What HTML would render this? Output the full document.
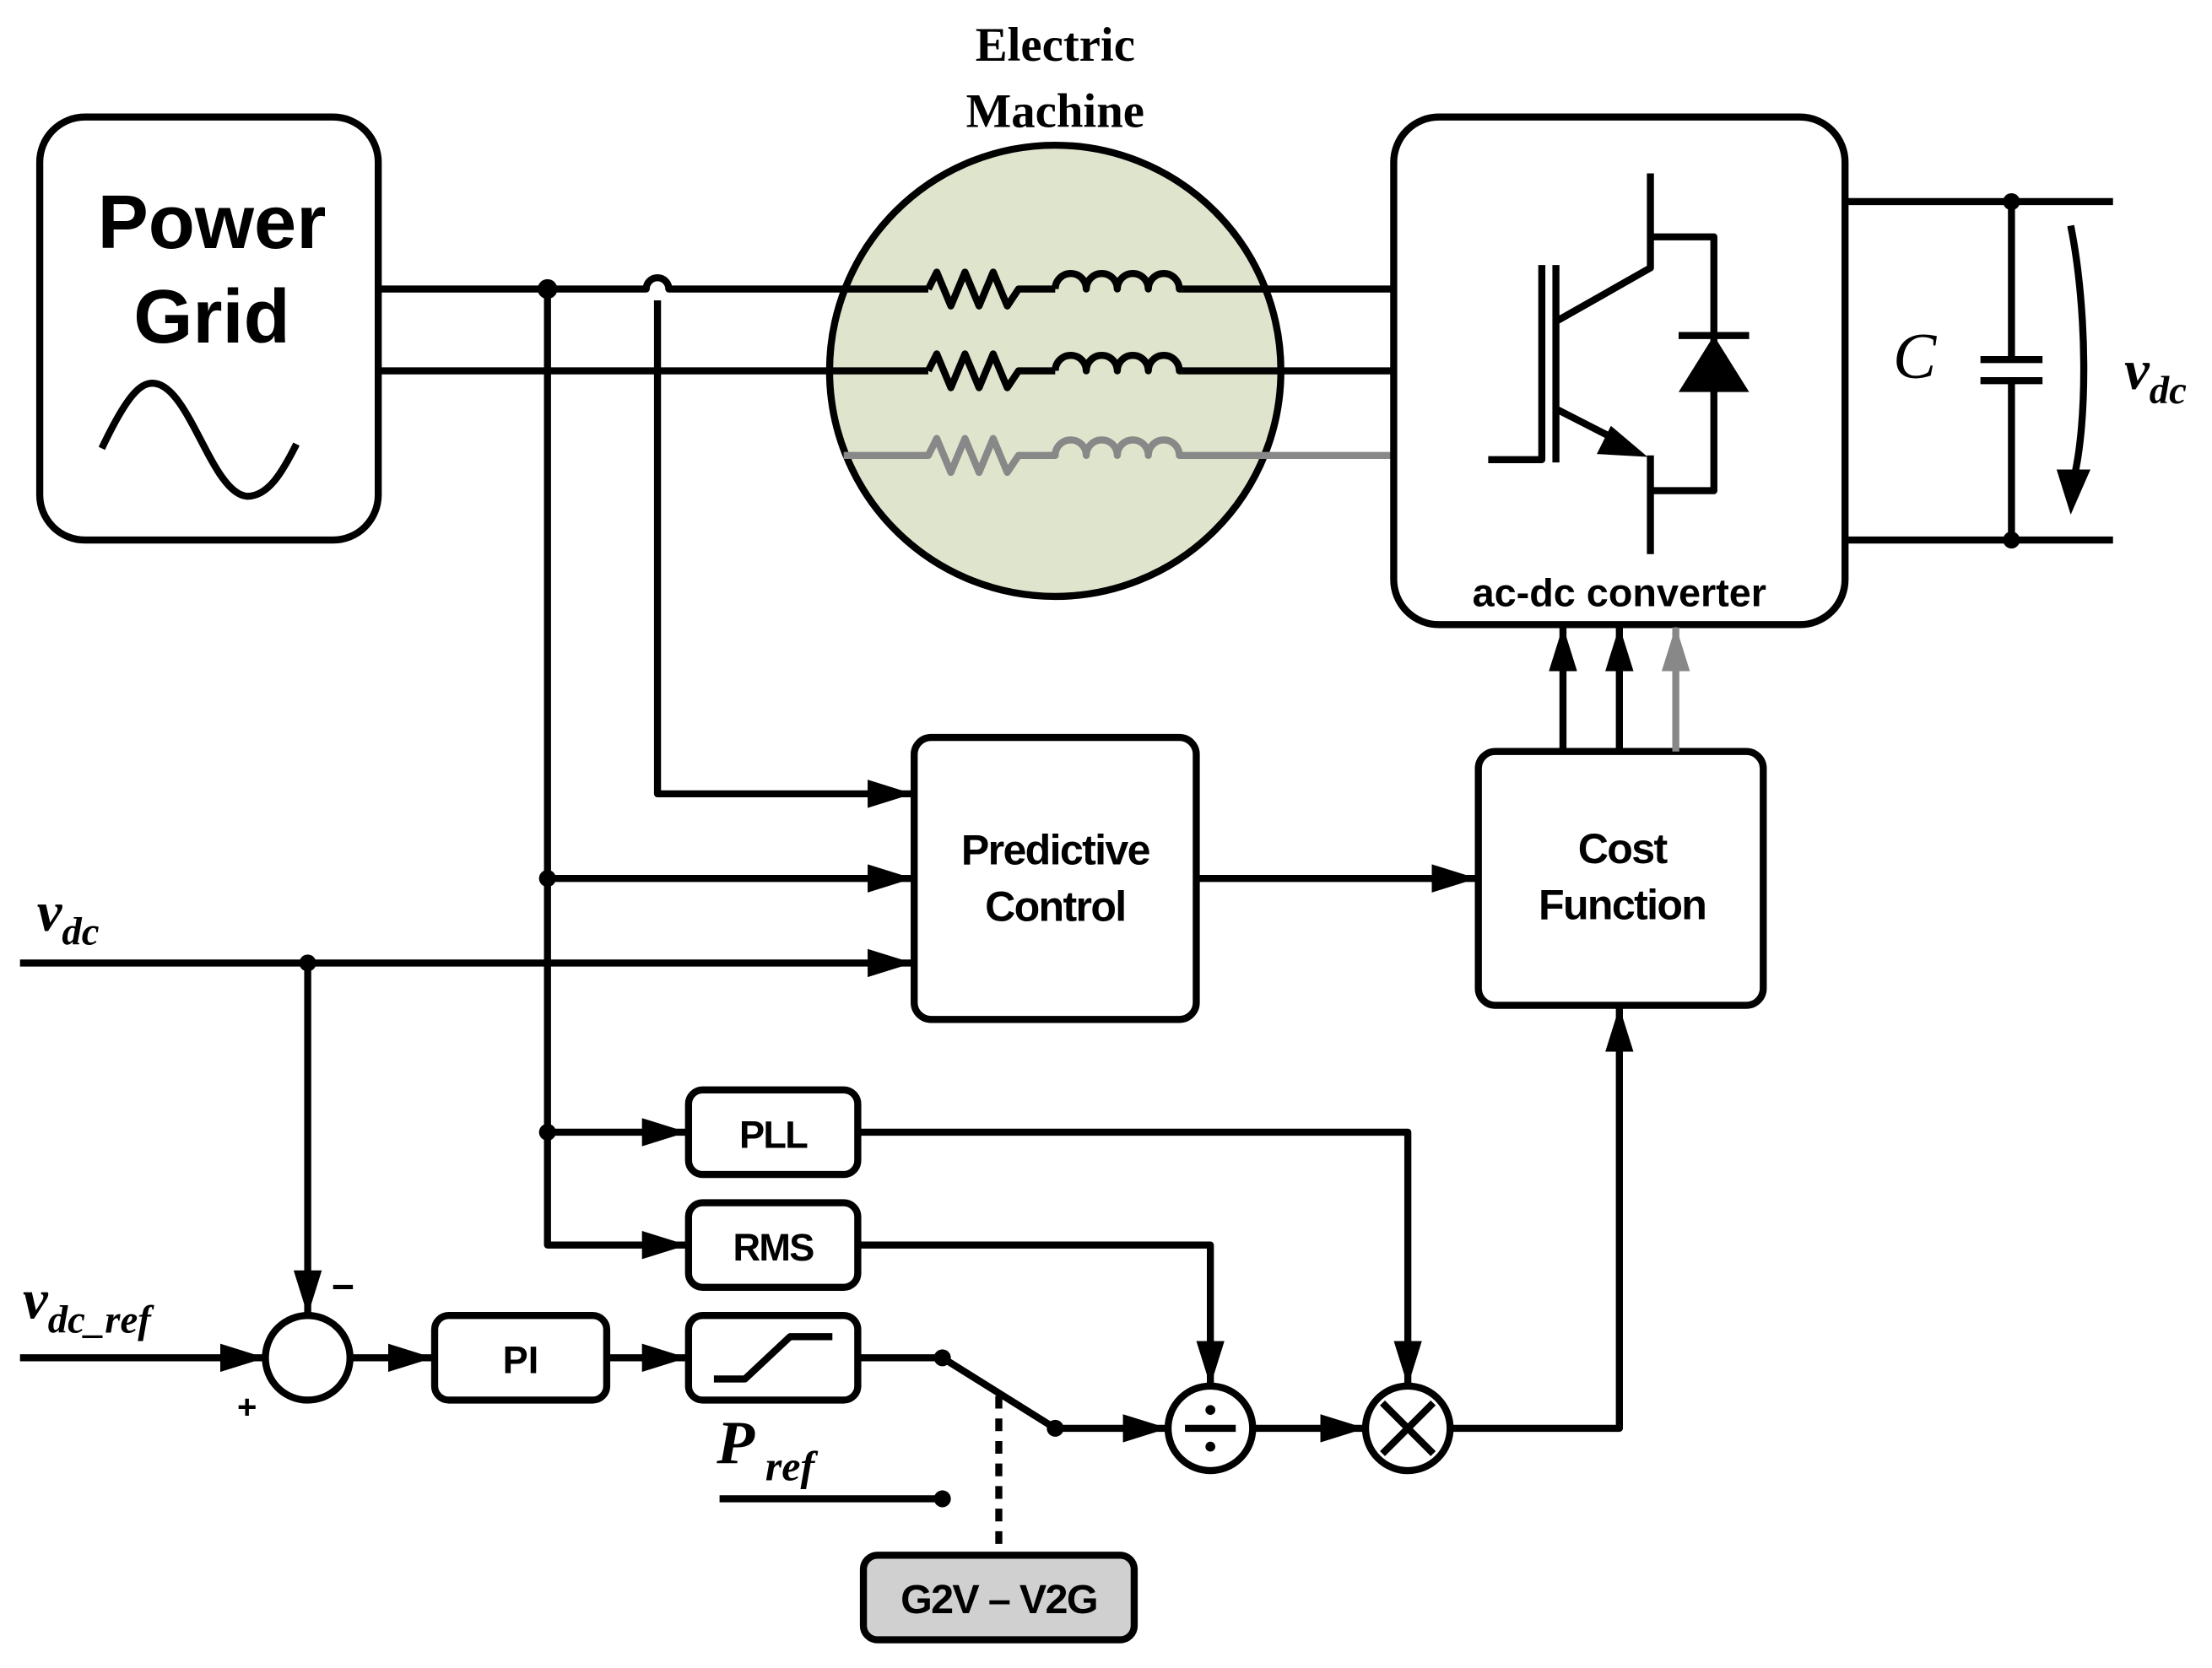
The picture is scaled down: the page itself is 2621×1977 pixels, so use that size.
<!DOCTYPE html>
<html><head><meta charset="utf-8"><style>html,body{margin:0;padding:0;background:#fff}svg{display:block}</style></head><body>
<svg width="2621" height="1977" viewBox="0 0 1568 1183" xmlns="http://www.w3.org/2000/svg">
<defs>
<marker id="ah" markerWidth="32" markerHeight="20" refX="31" refY="10" orient="auto" markerUnits="userSpaceOnUse"><path d="M0,0 L32,10 L0,20z" fill="#000"/></marker>
<marker id="ahg" markerWidth="32" markerHeight="20" refX="31" refY="10" orient="auto" markerUnits="userSpaceOnUse"><path d="M0,0 L32,10 L0,20z" fill="#888"/></marker>
</defs>
<g fill="none" stroke="#000" stroke-width="5" stroke-linejoin="round">
<rect x="28" y="83" width="240" height="300" rx="32"/>
<path d="M72,318 C90,280 100,270 110,272 C135,276 150,350 175,352 C190,352 200,335 210,315"/>
<circle cx="748" cy="263" r="160" fill="#dfe5cc"/>
<path d="M268,205 H458 A8,8 0 0 1 474,205 H658 M838,205 H988"/>
<path d="M268,263 H658 M838,263 H988"/>
<path d="M658,205 l6,-12 l10,24 l10,-24 l10,24 l10,-24 l10,24 l8,-12 H748 M748,205 a11,11 0 0 1 22,0 a11,11 0 0 1 22,0 a11,11 0 0 1 22,0 a11,11 0 0 1 22,0 h2"/>
<path d="M658,263 l6,-12 l10,24 l10,-24 l10,24 l10,-24 l10,24 l8,-12 H748 M748,263 a11,11 0 0 1 22,0 a11,11 0 0 1 22,0 a11,11 0 0 1 22,0 a11,11 0 0 1 22,0 h2"/>
<g stroke="#888"><path d="M598,323 H658 l6,-12 l10,24 l10,-24 l10,24 l10,-24 l10,24 l8,-12 H748 a11,11 0 0 1 22,0 a11,11 0 0 1 22,0 a11,11 0 0 1 22,0 a11,11 0 0 1 22,0 H988"/></g>
<rect x="988" y="83" width="320" height="360" rx="32"/>
<path d="M1055,326 H1093 V188 M1103,188 V328 M1103,228 L1170,190 V123 M1170,168 H1215 V348 H1170 M1103,290 L1150,314 M1170,323 V393"/>
<path d="M1190,238 H1240"/>
<path d="M1308,143 H1498 M1308,383 H1498 M1426,143 V255 M1426,270 V383 M1404,255 H1448 M1404,270 H1448"/>
<path d="M1468,160 C1480,220 1480,300 1470,340"/>
<rect x="648" y="523" width="200" height="200" rx="12"/>
<rect x="1048" y="533" width="202" height="180" rx="12"/>
<rect x="488" y="773" width="120" height="60" rx="10"/>
<rect x="488" y="853" width="120" height="60" rx="10"/>
<rect x="308" y="933" width="122" height="60" rx="10"/>
<rect x="488" y="933" width="120" height="60" rx="10"/>
<path d="M506,978 H528 L560,948 H590"/>
<rect x="612" y="1103" width="192" height="60" rx="10" fill="#d0d0d0"/>
<circle cx="218" cy="963" r="30"/>
<circle cx="858" cy="1013" r="30"/>
<circle cx="998" cy="1013" r="30"/>
<path d="M388,205 V883 H486" marker-end="url(#ah)"/>
<path d="M466,213 V563 H646" marker-end="url(#ah)"/>
<path d="M388,623 H646" marker-end="url(#ah)"/>
<path d="M14,683 H646" marker-end="url(#ah)"/>
<path d="M848,623 H1046" marker-end="url(#ah)"/>
<path d="M388,803 H486" marker-end="url(#ah)"/>
<path d="M218,683 V932" marker-end="url(#ah)"/>
<path d="M14,963 H187" marker-end="url(#ah)"/>
<path d="M248,963 H306" marker-end="url(#ah)"/>
<path d="M430,963 H486" marker-end="url(#ah)"/>
<path d="M608,963 H668 L748,1013 H827" marker-end="url(#ah)"/>
<path d="M888,1013 H967" marker-end="url(#ah)"/>
<path d="M608,803 H998 V982" marker-end="url(#ah)"/>
<path d="M608,883 H858 V982" marker-end="url(#ah)"/>
<path d="M1028,1013 H1148 V715" marker-end="url(#ah)"/>
<path d="M1108,533 V445" marker-end="url(#ah)"/>
<path d="M1148,533 V445" marker-end="url(#ah)"/>
<path d="M1188,533 V445" stroke="#888" marker-end="url(#ahg)"/>
<path d="M510,1063 H668"/>
<path d="M708,990 V1103" stroke-dasharray="9,7"/>
<path d="M840,1013 H876 M980,995 L1016,1031 M1016,995 L980,1031"/>
</g>
<path d="M1190,278 L1240,278 L1215,238z" fill="#000"/>
<path d="M1168,324 L1132,322 L1142,302z" fill="#000"/>
<path d="M1458,333 L1482,333 L1468,365z" fill="#000"/>
<g fill="#000">
<circle cx="388" cy="205" r="7"/><circle cx="388" cy="623" r="6"/><circle cx="388" cy="803" r="6"/>
<circle cx="218" cy="683" r="6"/><circle cx="668" cy="963" r="6"/><circle cx="748" cy="1013" r="6"/><circle cx="668" cy="1063" r="6"/>
<circle cx="1426" cy="143" r="6"/><circle cx="1426" cy="383" r="6"/>
<circle cx="858" cy="1000" r="3.5"/><circle cx="858" cy="1026" r="3.5"/>
</g>
<g font-family="Liberation Sans, sans-serif" font-weight="bold" text-anchor="middle" fill="#000">
<text x="150" y="176" font-size="54">Power</text>
<text x="150" y="243" font-size="54">Grid</text>
<text x="748" y="613" font-size="30" letter-spacing="-1">Predictive</text>
<text x="748" y="653" font-size="30" letter-spacing="-1">Control</text>
<text x="1150" y="612" font-size="30" letter-spacing="-1">Cost</text>
<text x="1150" y="652" font-size="30" letter-spacing="-1">Function</text>
<text x="548" y="814" font-size="27" letter-spacing="-1">PLL</text>
<text x="548" y="894" font-size="27" letter-spacing="-1">RMS</text>
<text x="369" y="974" font-size="27">PI</text>
<text x="708" y="1144" font-size="29" letter-spacing="-1">G2V – V2G</text>
<text x="1148" y="430" font-size="28">ac-dc converter</text>
<text x="175" y="1006" font-size="24">+</text>
<text x="243" y="922" font-size="28">−</text>
</g>
<g font-family="Liberation Serif, serif" font-weight="bold" fill="#000">
<text x="748" y="43" font-size="34" text-anchor="middle">Electric</text>
<text x="748" y="90" font-size="34" text-anchor="middle">Machine</text>
<text x="1342" y="268" font-size="46" font-style="italic" font-weight="normal">C</text>
<text x="1506" y="276" font-size="40" font-style="italic">v<tspan font-size="28" dy="10">dc</tspan></text>
<text x="26" y="660" font-size="40" font-style="italic">v<tspan font-size="28" dy="10">dc</tspan></text>
<text x="16" y="935" font-size="40" font-style="italic">v<tspan font-size="28" dy="10">dc_ref</tspan></text>
<text x="508" y="1038" font-size="44" font-style="italic">P<tspan font-size="30" dy="12"> ref</tspan></text>
</g>
</svg>
</body></html>
